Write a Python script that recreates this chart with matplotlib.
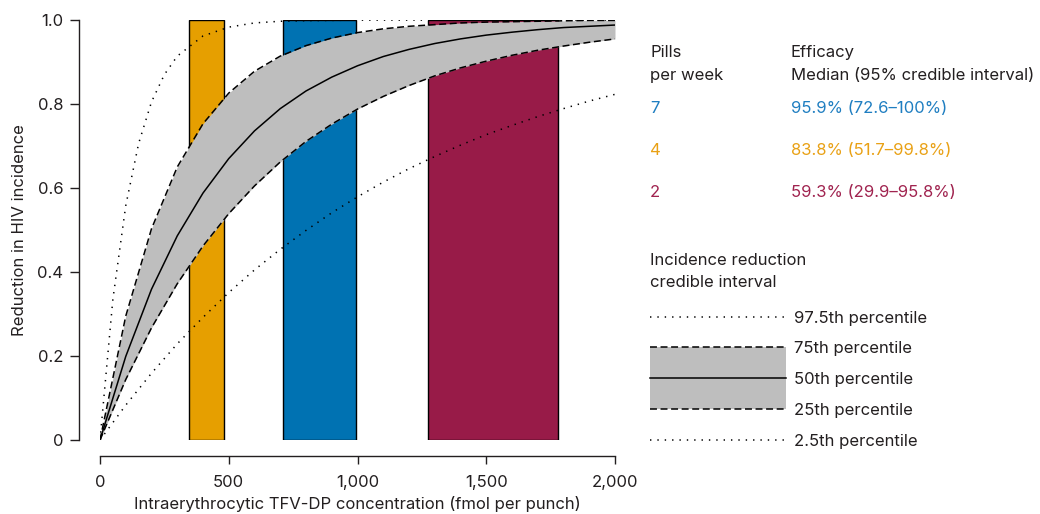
import matplotlib
matplotlib.use("Agg")
import matplotlib.pyplot as plt
from matplotlib.patches import Rectangle
from matplotlib.lines import Line2D

plt.rcParams['font.family'] = ['Inter', 'DejaVu Sans']
plt.rcParams['lines.scale_dashes'] = False

# Concentration grid (fmol per punch) and incidence-reduction percentiles
conc = [0, 100, 200, 300, 400, 500, 600, 700, 800, 900, 1000,
        1100, 1200, 1300, 1400, 1500, 1600, 1700, 1800, 1900, 2000]
p500 = [0, 0.199, 0.359, 0.486, 0.588, 0.670, 0.736, 0.789, 0.831, 0.864, 0.891,
        0.913, 0.930, 0.944, 0.955, 0.964, 0.971, 0.977, 0.982, 0.985, 0.988]
p750 = [0, 0.295, 0.503, 0.650, 0.753, 0.826, 0.878, 0.914, 0.939, 0.957, 0.970,
        0.979, 0.985, 0.989, 0.993, 0.995, 0.996, 0.997, 0.998, 0.999, 0.999]
p250 = [0, 0.144, 0.267, 0.372, 0.462, 0.539, 0.605, 0.662, 0.711, 0.752, 0.788,
        0.818, 0.844, 0.867, 0.886, 0.902, 0.916, 0.928, 0.938, 0.947, 0.955]
p025 = [0, 0.083, 0.159, 0.229, 0.292, 0.351, 0.405, 0.454, 0.499, 0.541, 0.579,
        0.614, 0.646, 0.675, 0.702, 0.727, 0.749, 0.770, 0.789, 0.807, 0.823]
conc_hi = [0, 50, 100, 150, 200, 250, 300, 400, 500, 600, 700, 800, 1000, 1500, 2000]
p975 = [0, 0.335, 0.558, 0.706, 0.805, 0.870, 0.914, 0.962, 0.983, 0.993, 0.997,
        0.9985, 0.9997, 1.0, 1.0]

# Concentration ranges for each dosing level
bar_left = [345, 710, 1275]
bar_right = [480, 995, 1780]
bar_colors = ['#E69F00', '#0072B2', '#981B48']

# Efficacy table
pills = ['7', '4', '2']
efficacy = ['95.9% (72.6\u2013100%)', '83.8% (51.7\u201399.8%)', '59.3% (29.9\u201395.8%)']
table_colors = ['#1F7EC1', '#E9A115', '#A0234F']

xticks = [0, 500, 1000, 1500, 2000]
xticklabels = ['0', '500', '1,000', '1,500', '2,000']
yticks = [0, 0.2, 0.4, 0.6, 0.8, 1.0]
yticklabels = ['0', '0.2', '0.4', '0.6', '0.8', '1.0']

TXT = '#231F20'
W, H = 1040, 514
fig = plt.figure(figsize=(W / 100, H / 100), dpi=100)
ax = fig.add_axes([100 / W, (H - 440) / H, 515 / W, 420 / H])

widths = [r - l for l, r in zip(bar_left, bar_right)]
ax.bar(bar_left, [1.0] * 3, width=widths, align='edge', color=bar_colors,
       edgecolor='black', linewidth=1.0, zorder=1)
ax.fill_between(conc, p250, p750, color='#BEBEBE', linewidth=0, zorder=2)
ax.plot(conc, p750, color='black', lw=1.1, ls=(0, (5, 2.6)), zorder=3)
ax.plot(conc, p250, color='black', lw=1.1, ls=(0, (5, 2.6)), zorder=3)
ax.plot(conc, p500, color='black', lw=1.1, zorder=3)
ax.plot(conc_hi, p975, color='black', lw=1.1, ls=(0, (1, 4.3)), zorder=3)
ax.plot(conc, p025, color='black', lw=1.1, ls=(0, (1, 4.3)), zorder=3)

ax.set_xlim(0, 2000)
ax.set_ylim(0, 1)
for s in ['top', 'right']:
    ax.spines[s].set_visible(False)
ax.spines['left'].set_position(('outward', 15))
ax.spines['bottom'].set_position(('outward', 11.5))
ax.spines['left'].set_bounds(0, 1)
ax.spines['bottom'].set_bounds(0, 2000)
for s in ['left', 'bottom']:
    ax.spines[s].set_color(TXT)
    ax.spines[s].set_linewidth(1.0)
ax.set_xticks(xticks, xticklabels)
ax.set_yticks(yticks, yticklabels)
fs = 12
ax.tick_params(axis='y', length=6.5, width=1.0, pad=5, labelsize=fs,
               colors=TXT)
ax.tick_params(axis='x', length=5.5, width=1.0, pad=8, labelsize=fs,
               colors=TXT)

# Overlay in pixel coordinates for labels, table and legend
ov = fig.add_axes([0, 0, 1, 1], facecolor='none')
ov.set_xlim(0, W)
ov.set_ylim(H, 0)
ov.axis('off')

ov.text(20, 230, 'Reduction in HIV incidence', rotation=90, ha='center',
        va='center', fontsize=fs, color=TXT)
ov.text(357.5, 509.5, 'Intraerythrocytic TFV-DP concentration (fmol per punch)',
        ha='center', va='baseline', fontsize=fs, color=TXT)

ov.text(650, 57, 'Pills', fontsize=fs, color=TXT, va='baseline')
ov.text(650, 80, 'per week', fontsize=fs, color=TXT, va='baseline')
ov.text(791, 57, 'Efficacy', fontsize=fs, color=TXT, va='baseline')
ov.text(791, 80, 'Median (95% credible interval)', fontsize=fs, color=TXT,
        va='baseline')
for yb, p, e, c in zip([113, 155, 197], pills, efficacy, table_colors):
    ov.text(650, yb, p, fontsize=fs, color=c, va='baseline')
    ov.text(791, yb, e, fontsize=fs, color=c, va='baseline')

ov.text(650, 265, 'Incidence reduction', fontsize=fs, color=TXT, va='baseline')
ov.text(650, 287, 'credible interval', fontsize=fs, color=TXT, va='baseline')

x0, x1 = 650, 786
ov.add_patch(Rectangle((x0, 347), x1 - x0, 62, facecolor='#BEBEBE',
                       edgecolor='none'))
ov.add_line(Line2D([x0, x1], [316.5, 316.5], color='black', lw=1.1,
                   ls=(0, (1, 4.3))))
ov.add_line(Line2D([x0, x1], [347, 347], color='black', lw=1.1,
                   ls=(0, (5, 2.6))))
ov.add_line(Line2D([x0, x1], [378, 378], color='black', lw=1.1))
ov.add_line(Line2D([x0, x1], [409, 409], color='black', lw=1.1,
                   ls=(0, (5, 2.6))))
ov.add_line(Line2D([x0, x1], [440, 440], color='black', lw=1.1,
                   ls=(0, (1, 4.3))))
labels = ['97.5th percentile', '75th percentile', '50th percentile',
          '25th percentile', '2.5th percentile']
for yy, lab in zip([316.5, 347, 378, 409, 440], labels):
    ov.text(794, yy + 6, lab, fontsize=fs, color=TXT, va='baseline')

fig.savefig('out.png', dpi=100)
